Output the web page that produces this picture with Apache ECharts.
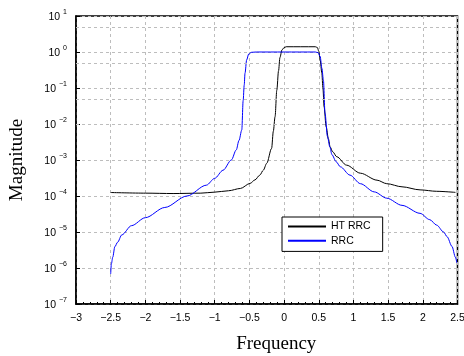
<!DOCTYPE html>
<html>
<head>
<meta charset="utf-8">
<script src="https://cdn.jsdelivr.net/npm/echarts@6/dist/echarts.min.js"></script>
<style>html,body{margin:0;padding:0;background:#fff;}#c{width:464px;height:356px;}</style>
</head>
<body>
<div id="c"></div>
<script>
const seriesNames = ['HT RRC', 'RRC'];
const htFreq = [-2.5, -2.0, -1.6, -1.2, -1.0, -0.8, -0.63, -0.49, -0.42, -0.35, -0.3, -0.25, -0.18, -0.155, -0.13, -0.105, -0.08, -0.06, -0.03, 0.0, 0.03, 0.45, 0.48, 0.5, 0.52, 0.544, 0.56, 0.577, 0.606, 0.64, 0.664, 0.7, 0.76, 0.9, 1.1, 1.34, 1.48, 1.7, 1.96, 2.2, 2.47];
const htMag = [1.25e-4, 1.2e-4, 1.17e-4, 1.2e-4, 1.28e-4, 1.4e-4, 1.62e-4, 2.24e-4, 2.8e-4, 3.8e-4, 5.2e-4, 8.1e-4, 2.1e-3, 6.3e-3, 1.6e-2, 8.7e-2, 0.3, 0.7, 1.15, 1.32, 1.4, 1.4, 1.33, 1.05, 0.6, 0.26, 0.1, 0.03, 8.5e-3, 3.8e-3, 2.3e-3, 1.7e-3, 1.23e-3, 7.2e-4, 4.3e-4, 2.75e-4, 2.2e-4, 1.8e-4, 1.48e-4, 1.35e-4, 1.26e-4];
const rrcFreq = [-2.5, -2.49, -2.47, -2.44, -2.4, -2.34, -2.2, -2.0, -1.72, -1.4, -1.12, -1.0, -0.88, -0.76, -0.69, -0.65, -0.61, -0.59, -0.575, -0.563, -0.54, -0.51, -0.47, -0.4, 0.0, 0.45, 0.49, 0.52, 0.545, 0.567, 0.59, 0.625, 0.66, 0.69, 0.75, 0.81, 0.95, 1.1, 1.3, 1.48, 1.7, 1.96, 2.1, 2.2, 2.3, 2.35, 2.42, 2.47, 2.49];
const rrcMag = [6.8e-7, 1.3e-6, 2e-6, 3.9e-6, 5.2e-6, 8.3e-6, 1.5e-5, 2.5e-5, 4.8e-5, 1e-4, 2e-4, 3.1e-4, 5.2e-4, 1e-3, 1.9e-3, 3.5e-3, 6.8e-3, 4.5e-2, 0.12, 0.26, 0.6, 0.88, 0.98, 1.0, 1.0, 1.0, 0.96, 0.75, 0.35, 0.166, 2e-2, 4.5e-3, 2.3e-3, 1.4e-3, 9e-4, 6.5e-4, 3.8e-4, 2.2e-4, 1.3e-4, 8.7e-5, 5.5e-5, 3.3e-5, 2.2e-5, 1.55e-5, 1e-5, 7.4e-6, 4e-6, 2e-6, 1.4e-6];
const minorGridValues = [5, 0.5, 0.05, 5e-3, 5e-4, 5e-5, 5e-6, 5e-7];

const gridColor = '#bdbdbd';
const chart = echarts.init(document.getElementById('c'));
chart.setOption({
  animation: false,
  backgroundColor: '#fff',
  grid: { left: 76, right: 6.5, top: 16, bottom: 52, containLabel: false, outerBoundsMode: 'none',
    show: true, borderColor: '#000', borderWidth: 1.5, backgroundColor: 'transparent' },
  legend: {
    data: seriesNames, orient: 'vertical', left: 282, top: 217,
    backgroundColor: '#fff', borderColor: '#000', borderWidth: 1, borderRadius: 0,
    padding: [4, 12, 5, 5], itemGap: 3, itemWidth: 38, itemHeight: 14,
    itemStyle: { opacity: 0 },
    textStyle: { fontFamily: 'Liberation Sans', fontSize: 10.5, color: '#000' }
  },
  xAxis: {
    type: 'value', min: -3, max: 2.5, interval: 0.5,
    name: 'Frequency', nameLocation: 'middle', nameGap: 31, nameMoveOverlap: false,
    nameTextStyle: { fontFamily: 'Liberation Serif', fontSize: 19, color: '#000', padding: [0, 0, 0, 19] },
    axisLine: { show: true, onZero: false, lineStyle: { color: '#000', width: 1.5 } },
    axisTick: { inside: true, length: 4, lineStyle: { color: '#000' } },
    minorTick: { show: true, splitNumber: 5, length: 2, lineStyle: { color: '#000' } },
    axisLabel: { fontFamily: 'Liberation Sans', fontSize: 10.5, color: '#000', margin: 9,
      formatter: v => String(v).replace('-', '\u2212') },
    splitLine: { show: true, lineStyle: { color: gridColor, type: [3, 3], width: 1 } }
  },
  yAxis: {
    type: 'log', logBase: 10, min: 1e-7, max: 10, interval: 1,
    name: 'Magnitude', nameLocation: 'middle', nameGap: 49, nameMoveOverlap: false,
    nameTextStyle: { fontFamily: 'Liberation Serif', fontSize: 19, color: '#000' },
    axisLine: { show: true, onZero: false, lineStyle: { color: '#000', width: 1.5 } },
    axisTick: { inside: true, length: 4, lineStyle: { color: '#000' } },
    axisLabel: {
      margin: 9,
      formatter: v => { const e = Math.round(Math.log10(v)); const s = e < 0 ? '\u2212' + (-e) : String(e); return '{b|10}{e|' + s + '}'; },
      rich: {
        b: { fontFamily: 'Liberation Sans', fontSize: 10.5, color: '#000', lineHeight: 14, verticalAlign: 'bottom' },
        e: { fontFamily: 'Liberation Sans', fontSize: 7, color: '#000', lineHeight: 8, verticalAlign: 'top', padding: [0, 0, 0, 3] }
      }
    },
    splitLine: { show: true, lineStyle: { color: gridColor, type: [3, 3], width: 1 } }
  },
  series: [
    {
      name: seriesNames[0], type: 'line', symbol: 'none', smooth: 0.3, smoothMonotone: 'x',
      lineStyle: { color: '#000', width: 1 }, itemStyle: { color: '#000' },
      data: htFreq.map((f, i) => [f, htMag[i]]),
      markLine: {
        silent: true, symbol: 'none', label: { show: false },
        lineStyle: { color: gridColor, type: [3, 3], width: 1 },
        data: minorGridValues.map(v => ({ yAxis: v }))
      },
      z: 3
    },
    {
      name: seriesNames[1], type: 'line', symbol: 'none', smooth: 0.3, smoothMonotone: 'x',
      lineStyle: { color: '#0000ff', width: 1 }, itemStyle: { color: '#0000ff' },
      data: rrcFreq.map((f, i) => [f, rrcMag[i]]),
      z: 4
    }
  ]
});
</script>
</body>
</html>
